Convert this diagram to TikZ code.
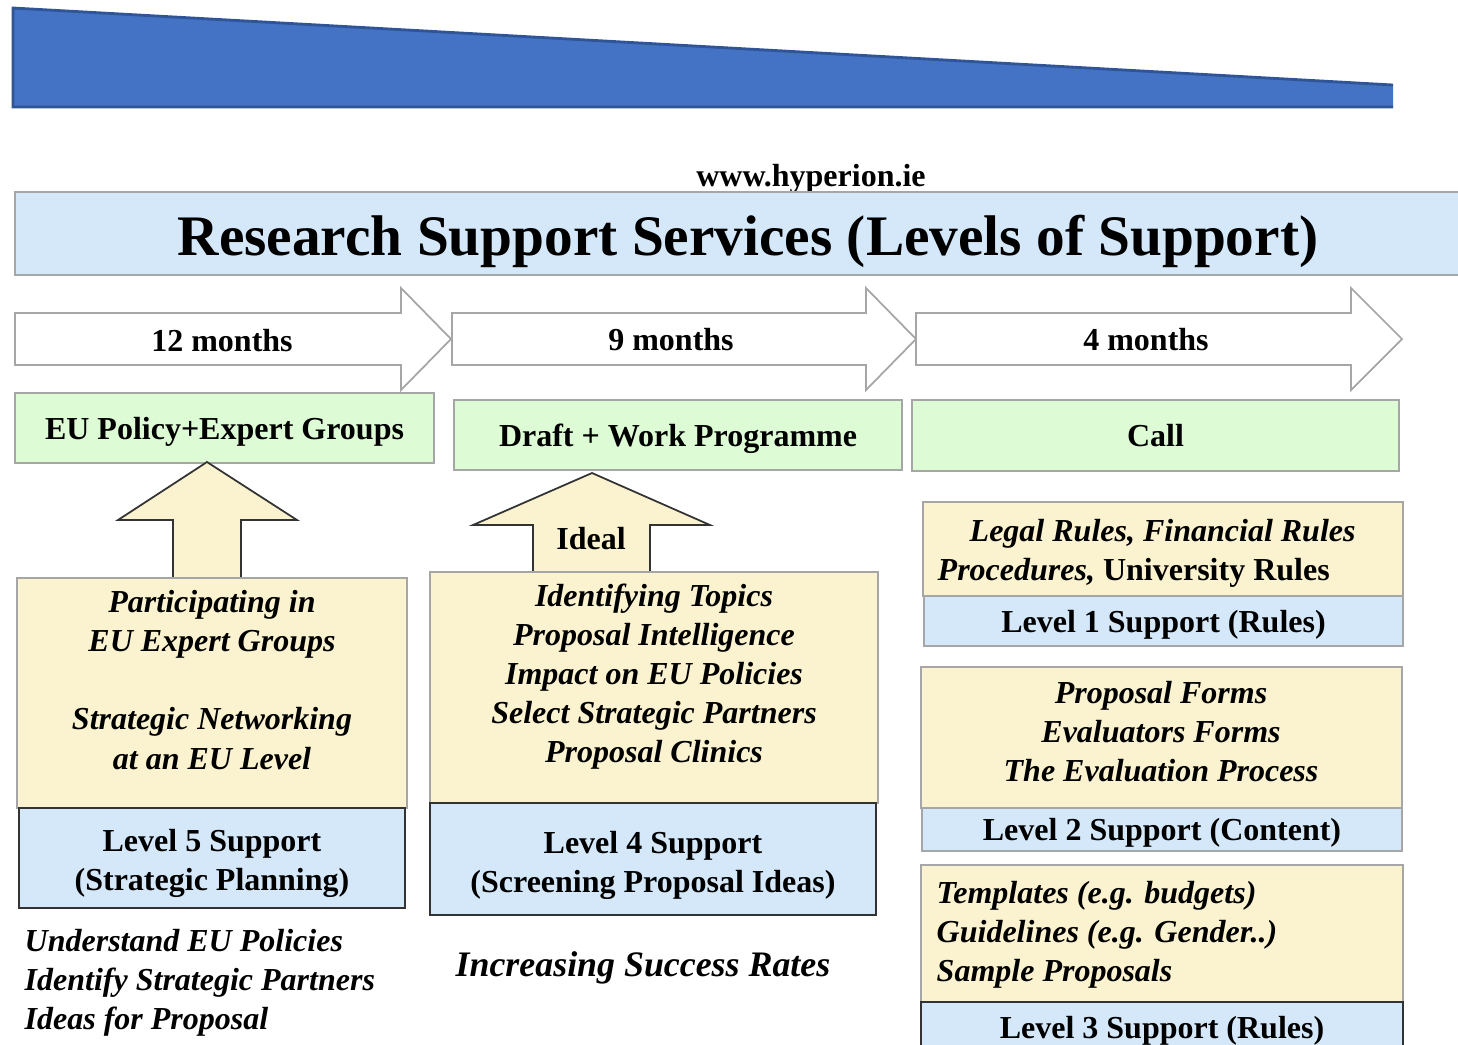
\documentclass[tikz,border=0pt]{standalone}
\usepackage{fontspec}
\setmainfont{Liberation Serif}
\usepackage{xcolor}

\definecolor{wedgeblue}{HTML}{4472C4}
\definecolor{wedgeline}{HTML}{2F5597}
\definecolor{paleblue}{HTML}{D5E8F9}
\definecolor{palegreen}{HTML}{DDFBD4}
\definecolor{paleyellow}{HTML}{FBF3CF}
\definecolor{boxline}{HTML}{A6A6A6}
\definecolor{darkline}{HTML}{333333}

\tikzset{
	txt/.style={font=\fontsize{9.1}{11.1}\selectfont\bfseries},
	itxt/.style={font=\fontsize{9.1}{11.1}\selectfont\bfseries\itshape},
	oneline/.style={text height=6.5pt, text depth=0pt},
	greenbox/.style={draw=boxline, fill=palegreen, line width=0.5pt, inner sep=0pt, txt, oneline},
	yellowbox/.style={draw=boxline, fill=paleyellow, line width=0.5pt, inner sep=0pt},
	levelbox/.style={draw=boxline, fill=paleblue, line width=0.5pt, inner sep=0pt, txt},
}

\begin{document}
\begin{tikzpicture}[x=0.01cm, y=-0.01cm]
	\clip (0,0) rectangle (1458,1044);

	% top wedge
	\fill[wedgeblue] (13,8) -- (1393,85) -- (1393,107) -- (13,107) -- cycle;
	\draw[wedgeline, line width=0.8pt] (1393,85) -- (13,8) -- (13,107) -- (1393,107);

	\node[txt] (web) at (811,179) {www.hyperion.ie};

	% title band
	\filldraw[fill=paleblue, draw=boxline, line width=0.5pt] (15,192) rectangle (1470,275);
	\node[font=\fontsize{16.3}{19}\selectfont\bfseries] (title) at (748,241) {Research Support Services (Levels of Support)};

	% time arrows
	\foreach \a/\b/\c in {15/401/451, 452/866/916, 916/1351/1402}
		\filldraw[fill=white, draw=boxline, line width=0.5pt] (\a,313) -- (\b,313) -- (\b,288) -- (\c,339) -- (\b,390) -- (\b,365) -- (\a,365) -- cycle;
	\node[txt, oneline] (m12) at (222,340) {12 months};
	\node[txt, oneline] (m9) at (671,339) {9 months};
	\node[txt, oneline] (m4) at (1146,339) {4 months};

	% stages
	\node[greenbox, minimum width=4.19cm, minimum height=0.70cm] (policy) at (224.5,428) {EU Policy+Expert Groups};
	\node[greenbox, minimum width=4.48cm, minimum height=0.70cm] (draft) at (678,435) {Draft + Work Programme};
	\node[greenbox, minimum width=4.87cm, minimum height=0.71cm] (call) at (1155.5,435.5) {Call};

	% up arrows
	\filldraw[fill=paleyellow, draw=darkline, line width=0.5pt] (173,578) -- (173,520) -- (118,520) -- (207,462) -- (297,520) -- (241,520) -- (241,578) -- cycle;
	\filldraw[fill=paleyellow, draw=darkline, line width=0.5pt] (533,572) -- (533,525) -- (473,525) -- (592,473) -- (710,525) -- (650,525) -- (650,572) -- cycle;
	\node[txt, oneline] (ideal) at (591,538) {Ideal};

	% level 5
	\node[yellowbox, minimum width=3.90cm, minimum height=2.30cm] (y5) at (212,693) {};
	\node[itxt, align=center] (t5) at (212,680) {Participating in\\EU Expert Groups\\[11.1pt]Strategic Networking\\at an EU Level};
	\node[levelbox, draw=darkline, minimum width=3.86cm, minimum height=1.00cm] (l5) at (212,858) {};
	\node[txt, align=center] (l5t) at (212,863) {Level 5 Support\\(Strategic Planning)};
	\node[itxt, align=left, anchor=west, inner xsep=0pt] (u5) at (24,983) {Understand EU Policies\\Identify Strategic Partners\\Ideas for Proposal};

	% level 4
	\node[yellowbox, minimum width=4.48cm, minimum height=2.31cm] (y4) at (654,687.5) {};
	\node[itxt, align=center] (t4) at (654,677) {Identifying Topics\\Proposal Intelligence\\Impact on EU Policies\\Select Strategic Partners\\Proposal Clinics};
	\node[levelbox, draw=darkline, minimum width=4.46cm, minimum height=1.12cm] (l4) at (653,859) {};
	\node[txt, align=center] (l4t) at (653,865) {Level 4 Support\\(Screening Proposal Ideas)};
	\node[font=\fontsize{10.2}{12}\selectfont\bfseries\itshape] (rates) at (643,968) {Increasing Success Rates};

	% level 1
	\node[yellowbox, minimum width=4.80cm, minimum height=0.94cm] (y1) at (1163,549) {};
	\node[txt, align=left, anchor=west, inner xsep=0pt] (t1) at (937,553.5) {\hspace*{9.1pt}\itshape Legal Rules, Financial Rules\\\textit{Procedures,} University Rules};
	\node[levelbox, oneline, minimum width=4.79cm, minimum height=0.50cm] (l1) at (1163.5,621) {Level 1 Support (Rules)};

	% level 2
	\node[yellowbox, minimum width=4.81cm, minimum height=1.41cm] (y2) at (1161.5,737.5) {};
	\node[itxt, align=center] (t2) at (1161,731.5) {Proposal Forms\\Evaluators Forms\\The Evaluation Process};
	\node[levelbox, oneline, minimum width=4.80cm, minimum height=0.43cm] (l2) at (1162,829.5) {Level 2 Support (Content)};

	% level 3
	\node[yellowbox, minimum width=4.82cm, minimum height=1.37cm] (y3) at (1162,933.5) {};
	\node[itxt, align=left, anchor=west, inner xsep=0pt] (t3) at (936,935) {Templates (e.g. budgets)\\Guidelines (e.g. Gender..)\\Sample Proposals};
	\node[levelbox, oneline, draw=darkline, minimum width=4.82cm, minimum height=0.50cm] (l3) at (1162,1027) {Level 3 Support (Rules)};
\end{tikzpicture}
\end{document}
